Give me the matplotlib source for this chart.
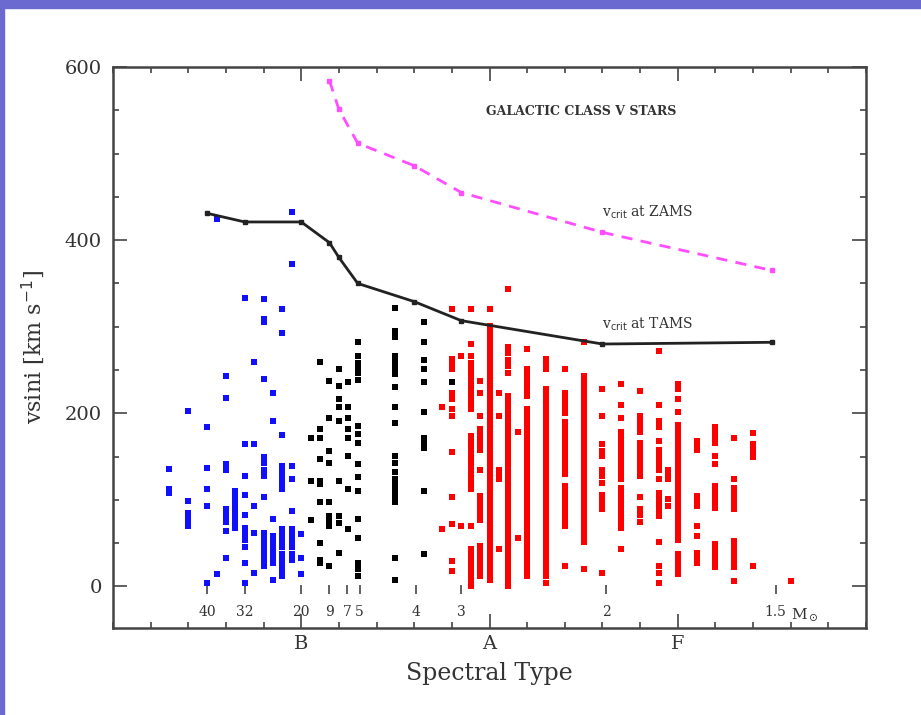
import matplotlib
matplotlib.use("Agg")
import matplotlib.pyplot as plt
from matplotlib.patches import Rectangle
from matplotlib.ticker import MultipleLocator

# spectral type scale: B0 = 10, A0 = 20, F0 = 30 (one unit = one subtype)
class_pos    = [10, 20, 30]
class_labels = ["B", "A", "F"]

# evolutionary masses marked along the bottom
mass_types  = [5.0, 7.0, 10.0, 11.5, 12.45, 13.1, 16.1, 18.5, 26.2, 35.2]
mass_labels = ["40", "32", "20", "9", "7", "5", "4", "3", "2", "1.5"]

# critical velocity curves
tams_type  = [5.0, 7.0, 10.0, 11.5, 12.0, 13.0, 16.0, 18.5, 26.0, 35.0]
tams_vcrit = [431, 421, 421, 397, 380, 350, 329, 307, 280, 282]
zams_type  = [11.5, 12.0, 13.0, 16.0, 18.5, 26.0, 35.0]
zams_vcrit = [584, 551, 512, 486, 455, 409, 365]

# O / early B stars (blue)
blue_types = [3.0, 4.0, 5.0, 5.5, 6.0, 6.5, 7.0, 7.5, 8.0, 8.5, 9.0, 9.5, 10.0]
blue_vsini = [
    [136, 112, 108],
    [203, 99, 85, 80, 75, 70],
    [184, 137, 112, 93, 4],
    [424, 14],
    [243, 218, 141, 135, 89, 84, 79, 74, 64, 33],
    [110, 104, 98, 92, 86, 80, 74, 68],
    [333, 164, 128, 106, 83, 68, 61, 54, 45, 27, 4],
    [259, 164, 93, 62, 16],
    [332, 309, 305, 240, 149, 142, 135, 128, 103, 62, 55, 48, 41, 35, 29, 24],
    [224, 191, 78, 58, 51, 44, 37, 30, 27, 8],
    [320, 293, 175, 139, 132, 125, 118, 112, 66, 59, 52, 45, 38, 31, 24, 18, 12],
    [433, 373, 139, 124, 87, 66, 59, 52, 45, 38, 31],
    [60, 33, 14],
]

# B stars (black)
black_types = [10.5, 11.0, 11.5, 12.0, 12.5, 13.0, 15.0, 16.5, 18.0]
black_vsini = [
    [172, 122, 77],
    [259, 182, 172, 147, 122, 118, 97, 50, 31, 27],
    [237, 195, 156, 143, 97, 81, 76, 70, 24],
    [251, 232, 216, 207, 191, 122, 81, 73, 39],
    [236, 207, 195, 182, 172, 151, 112, 66],
    [282, 266, 258, 252, 246, 239, 185, 176, 166, 141, 126, 110, 78, 56, 27, 20, 12],
    [322, 295, 288, 266, 259, 252, 245, 230, 207, 189, 151, 143, 132, 124, 117,
     110, 103, 97, 33, 8],
    [306, 282, 261, 251, 236, 201, 172, 166, 160, 110, 37],
    [236],
]

# A / F stars (red)
red_types = [17.5, 18.0, 18.5, 19.0, 19.5, 20.0, 20.5, 21.0, 21.5, 22.0, 23.0, 24.0,
             25.0, 26.0, 27.0, 28.0, 29.0, 29.5, 30.0, 31.0, 32.0, 33.0, 34.0, 36.0]
red_vsini = [
    [207, 66],
    [321, 263, 257, 251, 224, 216, 205, 197, 155, 103, 72, 29, 18],
    [266, 70],
    [321, 280, 266, 258, 251, 244, 237, 230, 224, 218, 211, 205, 174, 168, 161, 154,
     147, 140, 133, 126, 119, 112, 70, 43, 37, 31, 25, 19, 13, 7, 1],
    [237, 224, 197, 182, 176, 170, 164, 158, 135, 105, 98, 91, 84, 77, 47, 41, 35,
     29, 23, 17, 12],
    [321, 301, 294, 288, 282, 276, 270, 264, 258, 252, 246, 240, 234, 228, 222, 216,
     210, 204, 198, 192, 186, 180, 174, 168, 162, 156, 150, 144, 138, 132, 126, 120,
     114, 108, 102, 96, 90, 84, 78, 72, 66, 60, 54, 48, 42, 36, 30, 24, 18, 12, 8],
    [224, 197, 135, 129, 124, 43],
    [343, 276, 270, 262, 255, 247, 220, 214, 208, 202, 196, 190, 184, 178, 172, 166,
     160, 154, 148, 142, 136, 130, 124, 118, 112, 106, 100, 94, 88, 82, 76, 70, 64,
     58, 52, 46, 40, 34, 28, 22, 16, 10, 4, 0],
    [178, 56],
    [274, 251, 245, 238, 232, 226, 220, 205, 199, 193, 187, 181, 175, 169, 163, 157,
     151, 145, 139, 133, 127, 121, 115, 109, 103, 97, 91, 85, 79, 73, 67, 61, 55, 49,
     43, 37, 31, 25, 19, 12],
    [263, 257, 251, 228, 222, 216, 210, 204, 198, 192, 186, 180, 174, 168, 162, 156,
     150, 144, 138, 132, 126, 120, 114, 108, 102, 96, 90, 84, 78, 72, 66, 60, 54, 48,
     42, 36, 30, 24, 18, 12, 4],
    [251, 224, 218, 212, 206, 200, 190, 184, 178, 172, 166, 160, 154, 148, 142, 136,
     130, 116, 110, 104, 98, 92, 86, 80, 74, 70, 24],
    [282, 243, 237, 231, 225, 219, 213, 207, 201, 195, 189, 183, 177, 171, 165, 159,
     153, 147, 141, 135, 129, 123, 117, 111, 105, 99, 93, 87, 81, 75, 69, 63, 57, 51, 20],
    [228, 197, 164, 157, 151, 135, 128, 120, 106, 100, 94, 89, 16],
    [234, 209, 195, 178, 172, 166, 160, 154, 148, 142, 136, 130, 124, 114, 108, 102,
     96, 90, 84, 78, 72, 68, 43],
    [226, 197, 191, 185, 178, 166, 160, 154, 147, 141, 134, 128, 103, 89, 82, 74],
    [272, 209, 191, 184, 168, 158, 152, 146, 140, 135, 124, 108, 102, 96, 90, 85, 81,
     51, 24, 16, 4],
    [135, 129, 124, 101, 93],
    [234, 228, 216, 201, 187, 181, 175, 169, 163, 157, 151, 145, 139, 133, 127, 121,
     115, 109, 103, 97, 91, 85, 79, 73, 67, 61, 54, 37, 31, 25, 19, 14],
    [168, 163, 158, 105, 99, 93, 70, 58, 39, 33, 27],
    [184, 178, 172, 166, 151, 141, 116, 110, 104, 97, 91, 49, 43, 36, 29, 22],
    [172, 124, 114, 108, 102, 95, 89, 52, 46, 40, 34, 28, 22, 6],
    [177, 164, 159, 154, 149, 24],
    [6],
]


def flatten(types, values):
    xs, ys = [], []
    for t, col in zip(types, values):
        xs += [t] * len(col)
        ys += col
    return xs, ys


plt.rcParams["font.family"] = "DejaVu Serif"

fig = plt.figure(figsize=(9.21, 7.15), dpi=100)
ax = fig.add_axes([0.1227, 0.1217, 0.8176, 0.7846])

# slide frame
fig.patches.append(Rectangle((0, 0.989), 1, 0.011, transform=fig.transFigure,
                             color="#6a6ad0", zorder=10))
fig.patches.append(Rectangle((0, 0), 0.004, 1, transform=fig.transFigure,
                             color="#6a6ad0", zorder=10))

for types, vals, c in [(blue_types, blue_vsini, "#1010ff"),
                       (black_types, black_vsini, "black"),
                       (red_types, red_vsini, "#ff0000")]:
    xs, ys = flatten(types, vals)
    ax.scatter(xs, ys, s=16, marker="s", color=c, linewidths=0, zorder=3)

ax.plot(tams_type, tams_vcrit, color="#222222", lw=2, marker="s", ms=3.5, zorder=4)
ax.plot(zams_type, zams_vcrit, color="#ff4dff", lw=2, ls=(0, (4, 3)),
        marker="s", ms=3.5, zorder=4)

# mass markers
ax.vlines(mass_types, -9, 2, color="#444444", lw=1.2)
for t, lab in zip(mass_types, mass_labels):
    ax.text(t, -29, lab, ha="center", va="center", fontsize=10, color="#333333")
ax.text(36.0, -32, r"M$_\odot$", ha="left", va="center", fontsize=11, color="#333333")

ax.text(19.8, 549, "GALACTIC CLASS V STARS", fontsize=9, fontweight="bold",
        ha="left", va="center", color="#333333")
ax.text(26.0, 432, r"v$_{\rm crit}$ at ZAMS", fontsize=10, ha="left", va="center",
        color="#333333")
ax.text(26.0, 303, r"v$_{\rm crit}$ at TAMS", fontsize=10, ha="left", va="center",
        color="#333333")

ax.set_xlim(0, 40)
ax.set_ylim(-48, 600)
ax.set_xticks(class_pos)
ax.set_xticklabels(class_labels)
ax.xaxis.set_minor_locator(MultipleLocator(2))
ax.set_yticks([0, 200, 400, 600])
ax.yaxis.set_minor_locator(MultipleLocator(50))
ax.tick_params(which="both", direction="in", top=True, right=True,
               colors="#444444", labelcolor="#333333", width=1.2)
ax.tick_params(which="major", length=10, labelsize=14)
ax.tick_params(axis="x", which="major", pad=5)
ax.tick_params(axis="y", which="major", pad=8)
ax.tick_params(which="minor", length=4)
for s in ax.spines.values():
    s.set_color("#444444")
    s.set_linewidth(1.8)

ax.set_xlabel("Spectral Type", fontsize=17, color="#333333")
ax.set_ylabel(r"vsini [km s$^{-1}$]", fontsize=16, color="#333333")
ax.xaxis.set_label_coords(0.5, -0.061)
ax.yaxis.set_label_coords(-0.088, 0.5)

fig.savefig("out.png", dpi=100)
